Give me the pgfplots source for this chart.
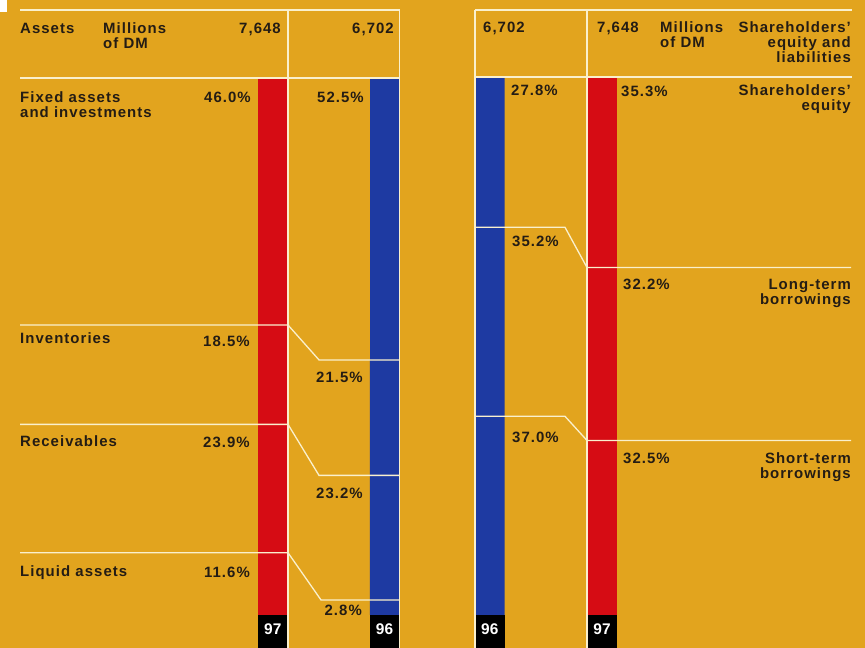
\documentclass[border=0pt]{standalone}
\usepackage{pgfplots}
\pgfplotsset{compat=1.18}
\usepackage{fontspec}
\newfontfamily\labfont{Liberation Sans}[UprightFont=* Bold, LetterSpace=7]
\newfontfamily\yrfont{Liberation Sans}[UprightFont=* Bold]
\definecolor{bg}{RGB}{226,164,30}
\definecolor{barred}{RGB}{214,12,20}
\definecolor{barblue}{RGB}{30,58,162}
\definecolor{txt}{RGB}{36,28,20}
\definecolor{wline}{RGB}{250,240,205}
\pgfplotsset{
  base/.style={width=865bp,height=648bp,scale only axis,hide axis,clip=false,
    xmin=0,xmax=865,enlargelimits=false,at={(0,0)},anchor=south west},
  pix/.style={base,ymin=0,ymax=648,y dir=reverse},
  units/.style={base,ymin=-6.1453,ymax=114.5251},
  bars/.style={units,ybar stacked,bar width=29.5},
}
\tikzset{
  lab/.style={font=\labfont\fontsize{15}{16}\selectfont,text=txt,inner sep=0pt},
  L/.style={lab,anchor=base west},
  R/.style={lab,anchor=base east},
  yr/.style={font=\yrfont\fontsize{15.5}{16}\selectfont,text=white,inner sep=0pt,anchor=base},
  wl/.style={wline,line width=1.3bp},
}
\begin{document}
\begin{tikzpicture}
% background
\begin{axis}[pix]
\fill[bg] (axis cs:0,0) rectangle (axis cs:865,648);
\fill[white] (axis cs:0,0) rectangle (axis cs:7,12);
\end{axis}
% red bars (1997)
\begin{axis}[bars]
\addplot[fill=barred,draw=none] coordinates {(272.75,11.6) (602,32.5)};
\addplot[fill=barred,draw=none] coordinates {(272.75,23.9) (602,32.2)};
\addplot[fill=barred,draw=none] coordinates {(272.75,18.5) (602,35.3)};
\addplot[fill=barred,draw=none] coordinates {(272.75,46.0) (602,0)};
\end{axis}
% blue bars (1996)
\begin{axis}[bars]
\addplot[fill=barblue,draw=none] coordinates {(384.5,2.8) (489.75,37.0)};
\addplot[fill=barblue,draw=none] coordinates {(384.5,23.2) (489.75,35.2)};
\addplot[fill=barblue,draw=none] coordinates {(384.5,21.5) (489.75,27.8)};
\addplot[fill=barblue,draw=none] coordinates {(384.5,52.5) (489.75,0)};
\end{axis}
% connectors and year boxes
\begin{axis}[units]
\addplot[wl] coordinates {(20,54.0) (288,54.0) (319,47.5) (399.5,47.5)};
\addplot[wl] coordinates {(20,35.5) (288,35.5) (319,26.0) (399.5,26.0)};
\addplot[wl] coordinates {(20,11.6) (288,11.6) (321,2.8) (399.5,2.8)};
\addplot[wl] coordinates {(475,72.2) (565,72.2) (587,64.7) (851,64.7)};
\addplot[wl] coordinates {(475,37.0) (565,37.0) (587,32.5) (851,32.5)};
\fill[black] (axis cs:258,-6.3) rectangle (axis cs:287.5,0);
\fill[black] (axis cs:369.75,-6.3) rectangle (axis cs:399.25,0);
\fill[black] (axis cs:475,-6.3) rectangle (axis cs:504.5,0);
\fill[black] (axis cs:587.25,-6.3) rectangle (axis cs:616.75,0);
\end{axis}
% frame lines and texts
\begin{axis}[pix]
\draw[wl] (axis cs:20,10) -- (axis cs:399.5,10);
\draw[wl] (axis cs:20,78) -- (axis cs:399.5,78);
\draw[wl] (axis cs:475,10) -- (axis cs:852,10);
\draw[wl] (axis cs:475,77) -- (axis cs:852,77);
\draw[wl] (axis cs:288,10) -- (axis cs:288,648);
\draw[wl] (axis cs:399.5,10) -- (axis cs:399.5,648);
\draw[wl] (axis cs:475,10) -- (axis cs:475,648);
\draw[wl] (axis cs:587,10) -- (axis cs:587,648);
% left texts
\node[L] at (axis cs:20,34) {Assets};
\node[L] at (axis cs:103,34) {Millions};
\node[L] at (axis cs:103,49) {of DM};
\node[R] at (axis cs:281,34) {7,648};
\node[R] at (axis cs:394,34) {6,702};
\node[L] at (axis cs:20,102) {Fixed assets};
\node[L] at (axis cs:20,117) {and investments};
\node[L] at (axis cs:20,343) {Inventories};
\node[L] at (axis cs:20,446) {Receivables};
\node[L] at (axis cs:20,576) {Liquid assets};
\node[R] at (axis cs:251,102) {46.0\%};
\node[R] at (axis cs:364,102) {52.5\%};
\node[R] at (axis cs:250,346) {18.5\%};
\node[R] at (axis cs:363,382) {21.5\%};
\node[R] at (axis cs:250,447) {23.9\%};
\node[R] at (axis cs:363,498) {23.2\%};
\node[R] at (axis cs:250,577) {11.6\%};
\node[R] at (axis cs:362,615) {2.8\%};
% right texts
\node[L] at (axis cs:483,33) {6,702};
\node[L] at (axis cs:597,33) {7,648};
\node[L] at (axis cs:660,33) {Millions};
\node[L] at (axis cs:660,48) {of DM};
\node[R] at (axis cs:851,33) {Shareholders’};
\node[R] at (axis cs:851,48) {equity and};
\node[R] at (axis cs:851,63) {liabilities};
\node[L] at (axis cs:511,95) {27.8\%};
\node[L] at (axis cs:621,96) {35.3\%};
\node[R] at (axis cs:851,95) {Shareholders’};
\node[R] at (axis cs:851,110) {equity};
\node[L] at (axis cs:512,246) {35.2\%};
\node[L] at (axis cs:623,289) {32.2\%};
\node[R] at (axis cs:851,289) {Long-term};
\node[R] at (axis cs:851,304) {borrowings};
\node[L] at (axis cs:512,442) {37.0\%};
\node[L] at (axis cs:623,463) {32.5\%};
\node[R] at (axis cs:851,463) {Short-term};
\node[R] at (axis cs:851,478) {borrowings};
% years
\node[yr] at (axis cs:272.75,634) {97};
\node[yr] at (axis cs:384.5,634) {96};
\node[yr] at (axis cs:489.75,634) {96};
\node[yr] at (axis cs:602,634) {97};
\end{axis}
\pgfresetboundingbox
\path (0,0) rectangle (865bp,648bp);
\end{tikzpicture}
\end{document}
